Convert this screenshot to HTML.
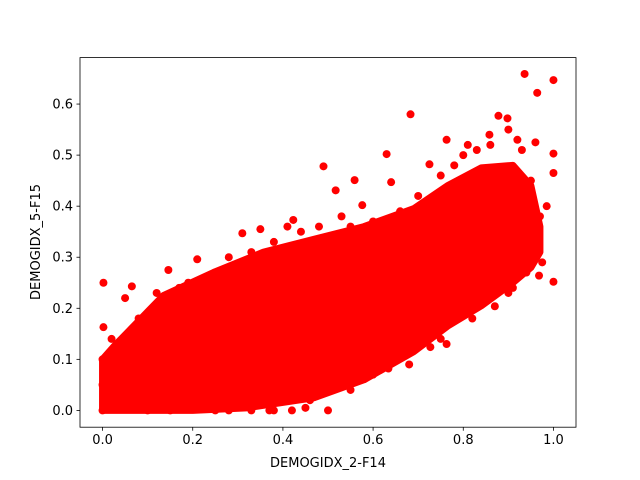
<!DOCTYPE html>
<html><head><meta charset="utf-8"><style>
html,body{margin:0;padding:0;background:#fff;}
svg{display:block;font-family:"DejaVu Sans","Liberation Sans",sans-serif;}
</style></head><body>
<svg id="chart" width="640" height="480" viewBox="0 0 640 480" xmlns="http://www.w3.org/2000/svg">
<rect width="640" height="480" fill="#fff"/>
<g id="plot"></g>
<g id="axes"></g>
<text x="328" y="467" font-size="13" text-anchor="middle">DEMOGIDX_2-F14</text>
<text transform="translate(40,242) rotate(-90)" font-size="13" text-anchor="middle">DEMOGIDX_5-F15</text>
</svg>
<script>
// dense core band of the scatter (envelope of points)
const upperX = [0,0.025,0.135,0.246,0.357,0.468,0.58,0.69,0.765,0.84,0.91,0.95,0.97];
const upperY = [0.10,0.125,0.225,0.27,0.31,0.335,0.36,0.395,0.44,0.475,0.48,0.44,0.36];
const lowerX = [0,0.2,0.32,0.47,0.58,0.69,0.765,0.84,0.91,0.95,0.97];
const lowerY = [0,0,0.005,0.025,0.06,0.115,0.165,0.205,0.25,0.28,0.31];
// individual scattered points
const ptX = [0.002,0.002,0.936,1.0,0.964,0.683,1.0,1.0,0.5,0.49,0.63,0.878,0.898,0.763,0.559,0.517,0.576,0.985,0.31,0.21,0.146,0.763,0.634,0.87,0.91,0.968,0.975,0.858,0.81,0.725,0.64,1.0,0.92,0.96,0.02,0.05,0.065,0.423,0.35,0.727,0.46,0.33,0.37,0.38,0.42,0.45,0.0,0.0,0.0,
 0.08,0.12,0.17,0.19,0.25,0.28,0.33,0.38,0.41,0.44,0.48,0.53,0.55,0.6,0.66,0.7,0.72,0.75,0.78,0.8,0.83,0.86,0.9,0.93,0.95,0.97,0.96,
 0.55,0.6,0.68,0.75,0.82,0.9,0.94,0.1,0.15,0.25,0.28];
const ptY = [0.25,0.163,0.659,0.647,0.622,0.58,0.503,0.252,0,0.478,0.502,0.577,0.572,0.53,0.451,0.431,0.402,0.40,0.347,0.296,0.275,0.13,0.082,0.204,0.24,0.264,0.29,0.54,0.52,0.482,0.447,0.465,0.53,0.525,0.14,0.22,0.243,0.373,0.355,0.124,0.02,0,0,0,0,0.005,0,0.05,0.1,
 0.18,0.23,0.24,0.25,0.27,0.3,0.31,0.33,0.36,0.35,0.36,0.38,0.36,0.37,0.39,0.42,0.41,0.46,0.48,0.5,0.51,0.52,0.55,0.51,0.45,0.38,0.34,
 0.04,0.07,0.09,0.14,0.18,0.23,0.27,0,0,0,0];
const xTicks = [0,0.2,0.4,0.6,0.8,1.0];
const xTickLabels = ["0.0","0.2","0.4","0.6","0.8","1.0"];
const yTicks = [0,0.1,0.2,0.3,0.4,0.5,0.6];
const yTickLabels = ["0.0","0.1","0.2","0.3","0.4","0.5","0.6"];

const L=80,R=576,T=57.6,B=427.2;
const xMin=-0.05,xMax=1.05,yMin=-0.0329,yMax=0.691;
const sx=v=>L+(v-xMin)/(xMax-xMin)*(R-L);
const sy=v=>B-(v-yMin)/(yMax-yMin)*(B-T);
const NS="http://www.w3.org/2000/svg";
const plot=document.getElementById('plot'), axes=document.getElementById('axes');
function mk(tag,attrs,parent){const e=document.createElementNS(NS,tag);for(const k in attrs)e.setAttribute(k,attrs[k]);parent.appendChild(e);return e;}

let pts=[];
for(let i=0;i<upperX.length;i++)pts.push(sx(upperX[i])+','+sy(upperY[i]));
for(let i=lowerX.length-1;i>=0;i--)pts.push(sx(lowerX[i])+','+sy(lowerY[i]));
const band=mk('polygon',{points:pts.join(' '),fill:'#ff0000',stroke:'#ff0000','stroke-width':7,'stroke-linejoin':'round'},plot);


for(let i=0;i<ptX.length;i++){
  const c=mk('circle',{cx:sx(ptX[i]),cy:sy(ptY[i]),r:4,fill:'#ff0000'},plot);
  
  
}
const frame=mk('rect',{x:L,y:T,width:R-L,height:B-T,fill:'none',stroke:'#000','stroke-width':0.8},axes);


xTicks.forEach((v,i)=>{
  const x=sx(v);
  const t=mk('line',{x1:x,x2:x,y1:B,y2:B+3.5,stroke:'#000','stroke-width':0.8},axes);
  
  
  const l=mk('text',{x:x,y:B+17,'font-size':13,'text-anchor':'middle'},axes);
  l.textContent=xTickLabels[i];
  
  
});
yTicks.forEach((v,i)=>{
  const y=sy(v);
  const t=mk('line',{x1:L-3.5,x2:L,y1:y,y2:y,stroke:'#000','stroke-width':0.8},axes);
  
  
  const l=mk('text',{x:L-7,y:y+4.5,'font-size':13,'text-anchor':'end'},axes);
  l.textContent=yTickLabels[i];
  
  
});
</script>
</body></html>
